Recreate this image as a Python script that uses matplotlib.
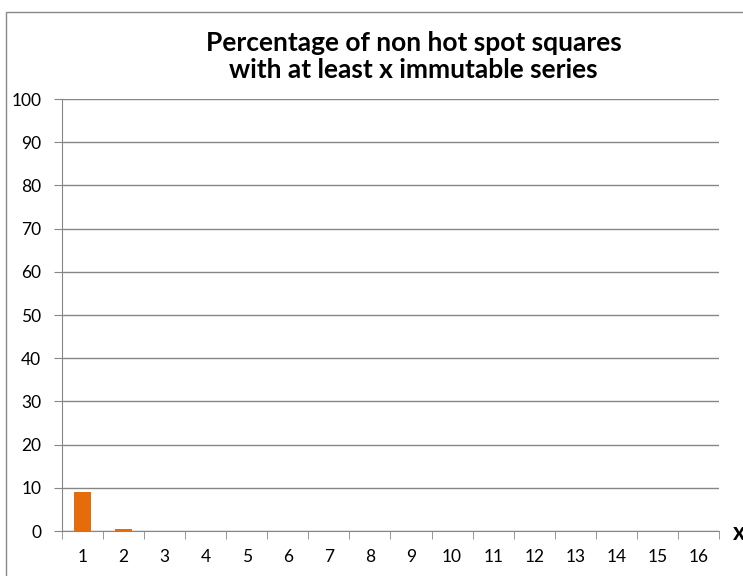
import numpy as np
import matplotlib.pyplot as plt
from matplotlib.patches import Rectangle

# ============================================================
#  Donnees
# ============================================================
categories = [str(i) for i in range(1, 17)]
pourcentages = [9.0, 0.4, 0, 0, 0, 0, 0, 0, 0, 0, 0, 0, 0, 0, 0, 0]
y_ticks = list(range(0, 101, 10))

plt.rcParams['font.family'] = ['Lato', 'DejaVu Sans']

fig = plt.figure(figsize=(7.43, 5.76), dpi=100)
ax = fig.add_axes([62 / 743, 1 - 531 / 576, (719 - 62) / 743, (531 - 99) / 576])

pos = np.arange(1, len(categories) + 1)
ax.bar(pos, pourcentages, width=0.4, color='#E46C0A', zorder=3)

ax.set_xlim(0.5, len(categories) + 0.5)
ax.set_ylim(0, 100)
ax.set_yticks(y_ticks)
ax.set_xticks(pos)
ax.set_xticklabels(categories)
ax.set_xticks(np.arange(0.5, len(categories) + 1), minor=True)
ax.tick_params(axis='x', which='major', length=0, pad=13, labelsize=12.5)
ax.tick_params(axis='x', which='minor', length=6, color='#868686')
ax.tick_params(axis='y', length=6, color='#868686', labelsize=12.5, pad=9)

ax.grid(axis='y', color='#868686', linewidth=1, zorder=0)
for s in ['top', 'right']:
    ax.spines[s].set_visible(False)
for s in ['left', 'bottom']:
    ax.spines[s].set_color('#868686')

# titre et label x
fig.text(414 / 743, 1 - 43 / 576, 'Percentage of non hot spot squares',
         ha='center', va='center', fontsize=19, fontweight='bold')
fig.text(413 / 743, 1 - 70 / 576, 'with at least x immutable series',
         ha='center', va='center', fontsize=19, fontweight='bold')
fig.text(733 / 743, 1 - 532 / 576, 'x', ha='left', va='center',
         fontsize=17, fontweight='bold')

# cadre du graphique
fig.patches.append(Rectangle((6 / 743, -0.1), 2, 1.1 - 12 / 576,
                             transform=fig.transFigure, fill=False,
                             edgecolor='#888888', linewidth=1))

fig.savefig('out.png', dpi=100)
